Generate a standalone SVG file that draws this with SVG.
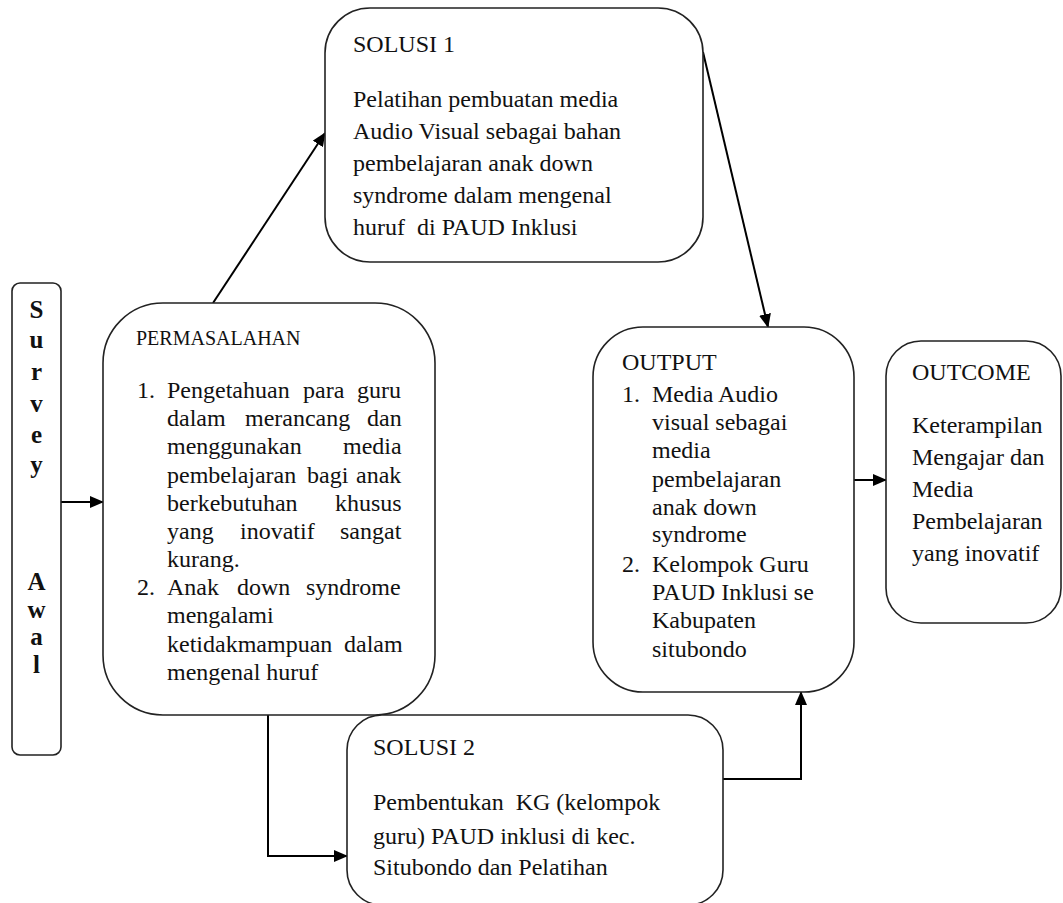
<svg xmlns="http://www.w3.org/2000/svg" width="1063" height="903" viewBox="0 0 1063 903">
<style>
.box{fill:#fff;stroke:#222;stroke-width:1.6}
.t{font-family:"Liberation Serif","Times New Roman",serif;font-size:24px;fill:#111}
.h{font-family:"Liberation Serif","Times New Roman",serif;font-size:20px;fill:#111}
.sv{font-family:"Liberation Serif","Times New Roman",serif;font-size:25px;font-weight:bold;fill:#111;text-anchor:middle}
.c{fill:none;stroke:#000;stroke-width:2}
</style>
<defs>
<marker id="ah" markerUnits="userSpaceOnUse" markerWidth="14" markerHeight="12" refX="13" refY="6" orient="auto">
<path d="M0,0 L14,6 L0,12 z" fill="#000"/>
</marker>
</defs>
<g id="connectors">
<line class="c" x1="61" y1="502" x2="103" y2="502" marker-end="url(#ah)"/>
<line class="c" x1="213" y1="303" x2="325" y2="133" marker-end="url(#ah)"/>
<line class="c" x1="703" y1="52" x2="768" y2="327" marker-end="url(#ah)"/>
<line class="c" x1="854" y1="480" x2="886" y2="480" marker-end="url(#ah)"/>
<path class="c" d="M268,715 V856 H347" marker-end="url(#ah)"/>
<path class="c" d="M723,779 H801 V692" marker-end="url(#ah)"/>
</g>
<g id="survey">
<rect class="box" x="12" y="283" width="49" height="472" rx="8"/>
<text class="sv" x="36.5" y="318">S</text>
<text class="sv" x="36.5" y="348">u</text>
<text class="sv" x="36.5" y="380">r</text>
<text class="sv" x="36.5" y="412">v</text>
<text class="sv" x="36.5" y="443">e</text>
<text class="sv" x="36.5" y="473">y</text>
<text class="sv" x="36.5" y="590">A</text>
<text class="sv" x="36.5" y="618">w</text>
<text class="sv" x="36.5" y="645">a</text>
<text class="sv" x="36.5" y="673">l</text>
</g>
<g id="permasalahan">
<rect class="box" x="103" y="303" width="332" height="412" rx="60"/>
<text class="h" x="136" y="345">PERMASALAHAN</text>
<text class="t" x="137" y="398">1.</text>
<text class="t" y="398"><tspan x="167">Pengetahuan</tspan><tspan x="303">para</tspan><tspan x="357">guru</tspan></text>
<text class="t" y="426"><tspan x="167">dalam</tspan><tspan x="245">merancang</tspan><tspan x="367">dan</tspan></text>
<text class="t" y="454"><tspan x="167">menggunakan</tspan><tspan x="343">media</tspan></text>
<text class="t" y="483"><tspan x="167">pembelajaran</tspan><tspan x="307">bagi</tspan><tspan x="356">anak</tspan></text>
<text class="t" y="511"><tspan x="167">berkebutuhan</tspan><tspan x="335">khusus</tspan></text>
<text class="t" y="539"><tspan x="167">yang</tspan><tspan x="240">inovatif</tspan><tspan x="340">sangat</tspan></text>
<text class="t" x="167" y="567">kurang.</text>
<text class="t" x="137" y="595">2.</text>
<text class="t" y="595"><tspan x="167">Anak</tspan><tspan x="237">down</tspan><tspan x="306">syndrome</tspan></text>
<text class="t" x="167" y="623">mengalami</text>
<text class="t" y="652"><tspan x="167">ketidakmampuan</tspan><tspan x="344">dalam</tspan></text>
<text class="t" x="167" y="680">mengenal huruf</text>
</g>
<g id="solusi1">
<rect class="box" x="325" y="8" width="378" height="254" rx="45"/>
<text class="t" x="353" y="52">SOLUSI 1</text>
<text class="t" x="353" y="107">Pelatihan pembuatan media</text>
<text class="t" x="353" y="139">Audio Visual sebagai bahan</text>
<text class="t" x="353" y="171">pembelajaran anak down</text>
<text class="t" x="353" y="203">syndrome dalam mengenal</text>
<text class="t" x="353" y="235" xml:space="preserve">huruf  di PAUD Inklusi</text>
</g>
<g id="output">
<rect class="box" x="593" y="327" width="261" height="365" rx="50"/>
<text class="t" x="622" y="370">OUTPUT</text>
<text class="t" x="622" y="402">1.</text>
<text class="t" x="652" y="402">Media Audio</text>
<text class="t" x="652" y="430">visual sebagai</text>
<text class="t" x="652" y="458">media</text>
<text class="t" x="652" y="487">pembelajaran</text>
<text class="t" x="652" y="515">anak down</text>
<text class="t" x="652" y="542">syndrome</text>
<text class="t" x="622" y="572">2.</text>
<text class="t" x="652" y="572">Kelompok Guru</text>
<text class="t" x="652" y="600">PAUD Inklusi se</text>
<text class="t" x="652" y="628">Kabupaten</text>
<text class="t" x="652" y="657">situbondo</text>
</g>
<g id="outcome">
<rect class="box" x="886" y="341" width="175" height="282" rx="35"/>
<text class="t" x="912" y="380">OUTCOME</text>
<text class="t" x="912" y="433">Keterampilan</text>
<text class="t" x="912" y="465">Mengajar dan</text>
<text class="t" x="912" y="497">Media</text>
<text class="t" x="912" y="529">Pembelajaran</text>
<text class="t" x="912" y="561">yang inovatif</text>
</g>
<g id="solusi2">
<rect class="box" x="347" y="715" width="376" height="190" rx="35"/>
<text class="t" x="373" y="755">SOLUSI 2</text>
<text class="t" x="373" y="810" xml:space="preserve">Pembentukan  KG (kelompok</text>
<text class="t" x="373" y="844">guru) PAUD inklusi di kec.</text>
<text class="t" x="373" y="875">Situbondo dan Pelatihan</text>
</g>
</svg>
